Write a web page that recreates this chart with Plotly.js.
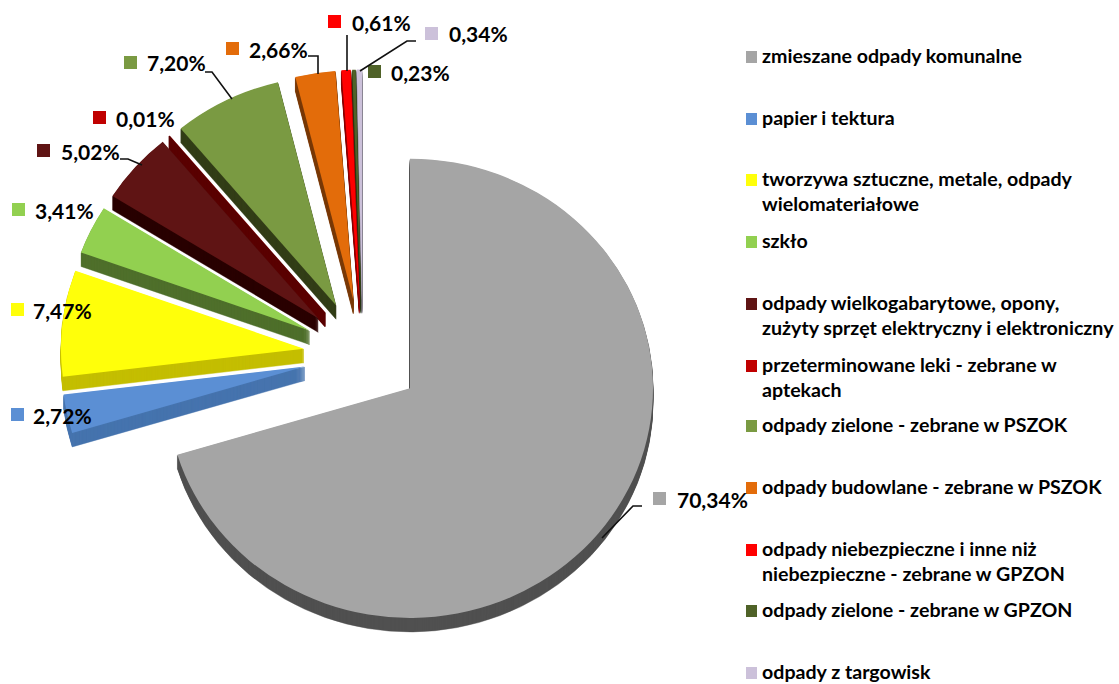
<!DOCTYPE html>
<html lang="pl">
<head>
<meta charset="utf-8">
<script src="https://cdn.plot.ly/plotly-3.0.1.min.js"></script>
<style>
html,body{margin:0;padding:0;background:#fff;overflow:hidden}
#chart{width:1119px;height:684px}
.pielayer{transform-origin:362.6px 355px;transform:scaleY(.945)}
</style>
</head>
<body>
<div id="chart"></div>
<script>
const categories = [
  'zmieszane odpady komunalne',
  'papier i tektura',
  'tworzywa sztuczne, metale, odpady wielomateriałowe',
  'szkło',
  'odpady wielkogabarytowe, opony, zużyty sprzęt elektryczny i elektroniczny',
  'przeterminowane leki - zebrane w aptekach',
  'odpady zielone - zebrane w PSZOK',
  'odpady budowlane - zebrane w PSZOK',
  'odpady niebezpieczne i inne niż niebezpieczne - zebrane w GPZON',
  'odpady zielone - zebrane w GPZON',
  'odpady z targowisk'
];
const legendText = [
  'zmieszane odpady komunalne',
  'papier i tektura',
  'tworzywa sztuczne, metale, odpady<br>wielomateriałowe',
  'szkło',
  'odpady wielkogabarytowe, opony,<br>zużyty sprzęt elektryczny i elektroniczny',
  'przeterminowane leki - zebrane w<br>aptekach',
  'odpady zielone - zebrane w PSZOK',
  'odpady budowlane - zebrane w PSZOK',
  'odpady niebezpieczne i inne niż<br>niebezpieczne - zebrane w GPZON',
  'odpady zielone - zebrane w GPZON',
  'odpady z targowisk'
];
const values = [70.34, 2.72, 7.47, 3.41, 5.02, 0.01, 7.20, 2.66, 0.61, 0.23, 0.34];
const faceColors = ['#A5A5A5','#5B8FD4','#FFFF0A','#92D050','#5F1414','#C00000','#7A9A42','#E36C0A','#FF0000','#4F6228','#CCC1DA'];
const sideColors = ['#505050','#4674AE','#C4BE00','#4F6F2B','#2A0000','#5A0000','#333F18','#7A3A08','#8A0000','#2C3814','#8A8494'];
const legendY = [57,119,180,242,304,366,426,488,550,611,673];
const labelX = [653,11,11,12,37,93,124,226,328,368,425];
const labelY = [499,415,310,210,151,118,63,49,22,72,34];
const textX = [675,31,31,33,59,114,145,247,350,389,447];
const leaders = [
  [[602,538],[633,506],[642,506]],
  null,
  null,
  null,
  [[120,159],[128,159],[142,165]],
  null,
  [[205,72],[212,72],[232,99]],
  [[308,56],[318,56],[318,74]],
  [[347,35],[347,71]],
  null,
  [[360,71],[407,41],[416,41]]
];

const W = 1119, H = 684, CX = 362.6, CY = 355, RADIUS = 243, PULL = 0.243, DEPTH = 14, SQUASH = 0.945;
const font = 'Lato, Carlito, sans-serif';
const px = x => x / W;
const py = y => 1 - y / H;
const half = RADIUS * (1 + PULL);

function pieTrace(shift, colors, lineWidths, lineColors) {
  const cy = CY + shift / SQUASH;
  return {
    type: 'pie',
    labels: categories,
    values: values,
    sort: false,
    direction: 'clockwise',
    rotation: 0,
    pull: PULL,
    textinfo: 'none',
    hoverinfo: shift === 0 ? 'label+percent' : 'skip',
    showlegend: false,
    domain: {x: [px(CX - half), px(CX + half)], y: [py(cy + half), py(cy - half)]},
    marker: {colors: colors, line: {width: lineWidths, color: lineColors}}
  };
}

const data = [];
for (let d = DEPTH; d >= 1; d--) {
  data.push(pieTrace(d, sideColors, values.map(v => v < 0.1 ? 1.6 : 0.5), sideColors));
}
data.push(pieTrace(0, faceColors, values.map(() => 0), faceColors));

const annotations = [];
const shapes = [];
categories.forEach((c, i) => {
  annotations.push({
    xref: 'paper', yref: 'paper', x: px(760), y: py(legendY[i] - 15),
    xanchor: 'left', yanchor: 'top', align: 'left', showarrow: false,
    text: legendText[i], font: {family: font, size: 19.6, color: '#000', weight: 700}
  });
  shapes.push({
    type: 'rect', xref: 'paper', yref: 'paper', layer: 'above',
    x0: px(746), x1: px(757), y0: py(legendY[i] - 6), y1: py(legendY[i] + 6),
    fillcolor: faceColors[i], line: {width: 0}
  });
  annotations.push({
    xref: 'paper', yref: 'paper', x: px(textX[i]), y: py(labelY[i]),
    xanchor: 'left', yanchor: 'middle', showarrow: false,
    text: values[i].toFixed(2).replace('.', ',') + '%',
    font: {family: font, size: 21, color: '#000', weight: 700}
  });
  shapes.push({
    type: 'rect', xref: 'paper', yref: 'paper', layer: 'above',
    x0: px(labelX[i]), x1: px(labelX[i] + 13), y0: py(labelY[i] - 7), y1: py(labelY[i] + 6),
    fillcolor: faceColors[i], line: {width: 0}
  });
  if (leaders[i]) {
    shapes.push({
      type: 'path', xref: 'paper', yref: 'paper', layer: 'above',
      path: leaders[i].map((p, k) => (k ? 'L' : 'M') + px(p[0]) + ',' + py(p[1])).join(' '),
      line: {color: '#111', width: 1.6}
    });
  }
});

Plotly.newPlot('chart', data, {
  width: W, height: H,
  margin: {l: 0, r: 0, t: 0, b: 0},
  paper_bgcolor: '#fff',
  showlegend: false,
  annotations: annotations,
  shapes: shapes
}, {displayModeBar: false});
</script>
</body>
</html>
